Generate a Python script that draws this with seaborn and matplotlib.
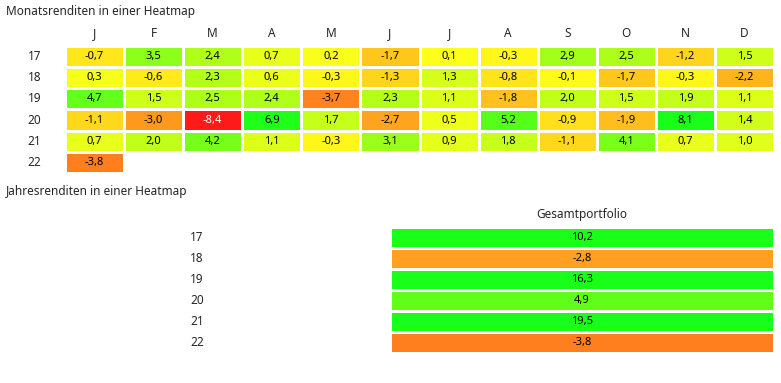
""" Monthly and yearly returns as heatmaps. """
import numpy as np
import seaborn as sns
import matplotlib.pyplot as plt
from matplotlib.colors import LinearSegmentedColormap

years = ["17", "18", "19", "20", "21", "22"]
months = ["J", "F", "M", "A", "M", "J", "J", "A", "S", "O", "N", "D"]

ret_17 = [-0.7, 3.5, 2.4, 0.7, 0.2, -1.7, 0.1, -0.3, 2.9, 2.5, -1.2, 1.5]
ret_18 = [0.3, -0.6, 2.3, 0.6, -0.3, -1.3, 1.3, -0.8, -0.1, -1.7, -0.3, -2.2]
ret_19 = [4.7, 1.5, 2.5, 2.4, -3.7, 2.3, 1.1, -1.8, 2.0, 1.5, 1.9, 1.1]
ret_20 = [-1.1, -3.0, -8.4, 6.9, 1.7, -2.7, 0.5, 5.2, -0.9, -1.9, 8.1, 1.4]
ret_21 = [0.7, 2.0, 4.2, 1.1, -0.3, 3.1, 0.9, 1.8, -1.1, 4.1, 0.7, 1.0]
ret_22 = [-3.8] + [np.nan] * 11

yearly_label = "Gesamtportfolio"
yearly = [10.2, -2.8, 16.3, 4.9, 19.5, -3.8]

FONT = ["Noto Sans", "DejaVu Sans"]


def make_cmap(vmin, vmax):
    """ Red -> orange -> yellow -> green, anchored at fixed returns."""
    nodes = [(-8.4, "#ff1a1a"), (-3.8, "#ff801f"), (0.0, "#ffff1a"),
             (7.0, "#1aff1a"), (vmax, "#1aff1a")]
    span = vmax - vmin
    return LinearSegmentedColormap.from_list(
        "ret", [((v - vmin) / span, c) for v, c in nodes])


def fmt(values):
    """ German decimal comma labels."""
    return np.array([["" if np.isnan(v) else f"{v:.1f}".replace(".", ",")
                      for v in row] for row in values])


def draw(ax, data, xlabels, ylabels, ypad, cmap, vmin, vmax):
    sns.heatmap(data, ax=ax, cmap=cmap, vmin=vmin, vmax=vmax,
                annot=fmt(data), fmt="", cbar=False,
                linewidths=0.8, linecolor="white",
                xticklabels=xlabels, yticklabels=ylabels,
                annot_kws={"fontsize": 8, "color": "black",
                           "family": FONT})
    ax.xaxis.tick_top()
    ax.tick_params(length=0, labelsize=8.5)
    ax.tick_params(axis="x", pad=4)
    ax.tick_params(axis="y", pad=ypad, rotation=0)
    for lab in ax.get_xticklabels() + ax.get_yticklabels():
        lab.set_family(FONT)
    # very dark cells get white text
    flat = [v for v in np.ravel(data) if not np.isnan(v)]
    for txt, v in zip(ax.texts, flat):
        if v < -6:
            txt.set_color("white")


sns.set_style("white")
plt.rcParams["font.family"] = FONT

W, H = 781, 383
fig = plt.figure(figsize=(W / 100, H / 100), dpi=100)

vmin, vmax = -8.4, 20.0
cmap = make_cmap(vmin, vmax)

monthly = np.array([ret_17, ret_18, ret_19, ret_20, ret_21, ret_22])
ax1 = fig.add_axes([65 / W, 1 - 173 / H, 709 / W, 127 / H])
draw(ax1, monthly, months, years, 17, cmap, vmin, vmax)

ax2 = fig.add_axes([390 / W, 1 - 353 / H, 384 / W, 126 / H])
draw(ax2, np.array(yearly).reshape(-1, 1), [yearly_label], years, 134,
     cmap, vmin, vmax)

fig.text(6 / W, 1 - 12 / H, "Monatsrenditen in einer Heatmap",
         fontsize=8.5, va="center")
fig.text(6 / W, 1 - 192 / H, "Jahresrenditen in einer Heatmap",
         fontsize=8.5, va="center")

fig.savefig("out.png", dpi=100)
